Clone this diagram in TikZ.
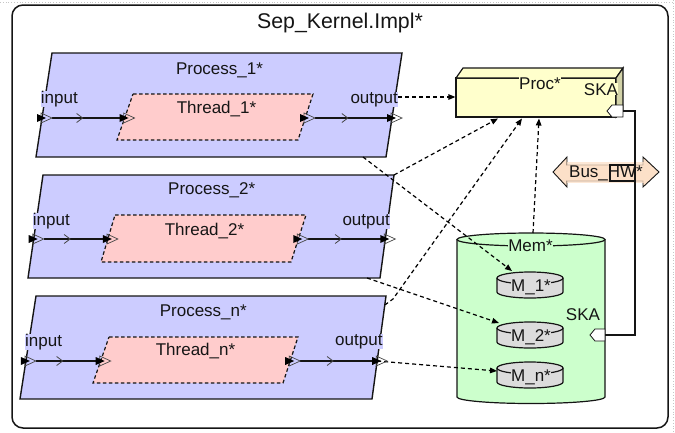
\documentclass[tikz,border=0pt]{standalone}
\usepackage{fontspec}
\setmainfont{Liberation Sans}
\usetikzlibrary{arrows.meta,decorations.markings}

\definecolor{prcfill}{HTML}{CCCCFF}
\definecolor{thdfill}{HTML}{FFCCCC}
\definecolor{cpufront}{HTML}{FFFFCC}
\definecolor{cpuside}{HTML}{D2D2A8}
\definecolor{memfill}{HTML}{CCFFCC}
\definecolor{blkfill}{HTML}{DCDCDC}
\definecolor{busfill}{HTML}{FCE0C8}
\definecolor{ink}{HTML}{151515}

\tikzset{
  txt/.style={font=\fontsize{17}{20}\selectfont, text=ink, inner sep=0pt, anchor=base},
  ttl/.style={font=\fontsize{21.3}{24}\selectfont, text=ink, inner sep=0pt, anchor=base},
  prcshape/.style={fill=prcfill, draw=ink, line width=1.4pt},
  thdshape/.style={fill=thdfill, draw=ink, line width=1.2pt, dash pattern=on 3.5pt off 2.5pt},
  cyl/.style={draw=ink, line width=1.2pt},
  flowline/.style={draw=ink, line width=1.4pt, shorten <=10pt, shorten >=4pt,
    postaction={decorate},
    decoration={markings, mark=at position 0.5 with
      {\arrow[draw=gray!55!black, line width=0.8pt]{Straight Barb[length=6pt,width=9pt]}}}},
  bind/.style={draw=black, line width=1.2pt, dash pattern=on 4pt off 3pt,
    -{Triangle[length=7pt,width=5.5pt]}},
  busline/.style={draw=ink, line width=1.2pt},
  skaport/.style={fill=white, draw=ink, line width=0.8pt},
  port/.pic={
    \draw[gray!55!black, line width=0.7pt] (-1pt,-5pt) -- (10pt,0pt) -- (-1pt,5pt) -- cycle;
    \fill[black] (-5pt,-4pt) -- (4pt,0pt) -- (-5pt,4pt) -- cycle;
  },
}

\begin{document}
\begin{tikzpicture}[x=1pt,y=-1pt]
\useasboundingbox (0,0) rectangle (675,432);

% editor canvas edge
\draw[gray!45, dotted, line width=0.8pt] (0,2) -- (675,2);
\draw[gray!45, dotted, line width=0.8pt] (673,0) -- (673,432);

% enclosing implementation
\node[draw=ink, line width=1.5pt, rounded corners=11pt, minimum width=656pt,
      minimum height=423pt, inner sep=0pt] (impl) at (340,216.5) {};
\node[ttl] (title) at (340,28.5) {Sep\_Kernel.Impl*};

% ---------------- Process_1 ----------------
\draw[prcshape] (52,53) -- (402,53) -- (386,157) -- (36,157) -- cycle;
\draw[thdshape] (133,94) -- (313,94) -- (298,140) -- (117,140) -- cycle;
\coordinate (p1in) at (42,118);
\coordinate (t1in) at (124.6,118);
\coordinate (t1out) at (305,118);
\coordinate (p1out) at (392,118);
\draw[flowline] (p1in) -- (t1in);
\draw[flowline] (t1out) -- (p1out);
\pic at (p1in) {port};
\pic at (t1in) {port};
\pic at (t1out) {port};
\pic at (p1out) {port};
\node[txt] (p1name) at (219.5,74) {Process\_1*};
\node[txt] (t1name) at (216.5,113.3) {Thread\_1*};
\node[txt, anchor=base west, fill=prcfill] (i1) at (40.7,103) {input};
\node[txt, anchor=base east, fill=prcfill] (o1) at (398,103) {output};

% ---------------- Process_2 ----------------
\draw[prcshape] (43,175) -- (394,175) -- (380,278) -- (28,278) -- cycle;
\draw[thdshape] (115,215) -- (306,215) -- (291,262) -- (101,262) -- cycle;
\coordinate (p2in) at (33.7,239);
\coordinate (t2in) at (107.9,239);
\coordinate (t2out) at (298.3,239);
\coordinate (p2out) at (385.3,239);
\draw[flowline] (p2in) -- (t2in);
\draw[flowline] (t2out) -- (p2out);
\pic at (p2in) {port};
\pic at (t2in) {port};
\pic at (t2out) {port};
\pic at (p2out) {port};
\node[txt] (p2name) at (211.7,194.3) {Process\_2*};
\node[txt] (t2name) at (204.5,235) {Thread\_2*};
\node[txt, anchor=base west, fill=prcfill] (i2) at (32.7,225) {input};
\node[txt, anchor=base east, fill=prcfill] (o2) at (390,225) {output};

% ---------------- Process_n ----------------
\draw[prcshape] (36,296) -- (386,296) -- (372,399) -- (20,399) -- cycle;
\draw[thdshape] (109,337) -- (298,337) -- (283,383) -- (93,383) -- cycle;
\coordinate (pnin) at (25.9,361);
\coordinate (tnin) at (100.7,361);
\coordinate (tnout) at (290.2,361);
\coordinate (pnout) at (377.2,361);
\draw[flowline] (pnin) -- (tnin);
\draw[flowline] (tnout) -- (pnout);
\node[txt] (pnname) at (203.3,316) {Process\_n*};
\node[txt] (tnname) at (195.5,355.7) {Thread\_n*};
\node[txt, anchor=base west, fill=prcfill] (in) at (25,346) {input};
\node[txt, anchor=base east, fill=prcfill] (on) at (382.7,345) {output};

% ---------------- Proc* (processor) ----------------
\node[fill=cpufront, draw=ink, line width=1.2pt, minimum width=160pt,
      minimum height=39pt, inner sep=0pt] (cpu) at (536,97.5) {};
\draw[fill=cpufront, draw=ink, line width=1.2pt]
  (456,78) -- (463,68) -- (623,68) -- (616,78) -- cycle;
\draw[fill=cpuside, draw=ink, line width=1.2pt]
  (616,78) -- (623,68) -- (623,110) -- (616,117) -- cycle;
\node[txt, fill=cpufront] (cpuname) at (540,89) {Proc*};
\node[txt, fill=cpufront] (cpuskalbl) at (601,95) {SKA};
\draw[skaport] (607,111) -- (612,105) -- (623,105) -- (623,117) -- (612,117) -- cycle;
\coordinate (cpuska) at (623,111);

% ---------------- Mem* (memory) ----------------
\path[fill=memfill] (457,239.5) -- (457,397)
  arc[start angle=180, end angle=360, x radius=74pt, y radius=6.5pt]
  -- (605,239.5)
  arc[start angle=0, end angle=180, x radius=74pt, y radius=6.5pt] -- cycle;
\draw[cyl] (457,239.5) -- (457,397)
  arc[start angle=180, end angle=360, x radius=74pt, y radius=6.5pt] -- (605,239.5);
\draw[cyl] (531,239.5) ellipse[x radius=74pt, y radius=6.5pt];
\node[txt, fill=memfill] (memname) at (530.5,251) {Mem*};
\node[txt] (memskalbl) at (583,320) {SKA};
\draw[skaport] (590,335) -- (595,329) -- (605,329) -- (605,341) -- (595,341) -- cycle;
\coordinate (memska) at (605,335);
\coordinate (memtop) at (533,233);

% memory blocks M_1*, M_2*, M_n*
\foreach \nm/\tp/\lab in {m1/272/M\_1*, m2/322/M\_2*, mn/362/M\_n*}{
  \pgfmathsetmacro{\ta}{\tp+6}
  \pgfmathsetmacro{\tb}{\tp+20}
  \pgfmathsetmacro{\tc}{\tp+19}
  \path[fill=blkfill] (497,\ta) -- (497,\tb)
    arc[start angle=180, end angle=360, x radius=33pt, y radius=6pt]
    -- (563,\ta)
    arc[start angle=0, end angle=180, x radius=33pt, y radius=6pt] -- cycle;
  \draw[cyl] (497,\ta) -- (497,\tb)
    arc[start angle=180, end angle=360, x radius=33pt, y radius=6pt] -- (563,\ta);
  \draw[cyl] (530,\ta) ellipse[x radius=33pt, y radius=6pt];
  \node[txt, fill=blkfill] (\nm) at (531,\tc) {\lab};
}

% ---------------- Bus_HW* ----------------
\draw[fill=busfill, draw=ink, line width=0.9pt]
  (553,172) -- (567,157) -- (567,165) -- (643,165) -- (643,157) -- (659,172)
  -- (643,187) -- (643,181) -- (567,181) -- (567,187) -- cycle;
\node[txt, fill=busfill, fill opacity=0.75, text opacity=1, inner xsep=2pt,
      inner ysep=3pt] (bus) at (606,177) {Bus\_HW*};
\coordinate (busjoin) at (635,165);
\draw[busline] (cpuska) -- (635,111) -- (busjoin) -- (610,165) -- (610,181) -- (635,181);
\draw[busline] (busjoin) -- (635,335) -- (memska);

% ---------------- bindings ----------------
\coordinate (p1o) at (398,97);
\coordinate (p1b) at (363,157);
\coordinate (p2ne) at (394,175);
\coordinate (p2b) at (367,278);
\coordinate (pnr) at (384.8,305);
\coordinate (pnbend) at (393,299);
\coordinate (cpub1) at (498,118.5);
\coordinate (cpub2) at (522,118.5);
\coordinate (cpub3) at (539,118.5);
\coordinate (m1t) at (512,271);
\coordinate (m2l) at (499,323);
\coordinate (mnl) at (497,371);

\draw[bind] (p1o) -- (p1o -| cpu.west);
\draw[bind] (p2ne) -- (cpub1);
\draw[bind] (pnr) -- (pnbend) -- (cpub2);
\draw[bind] (memtop) -- (cpub3);
\draw[bind] (p1b) -- (m1t);
\draw[bind] (p2b) -- (m2l);
\draw[bind] (pnout) -- (mnl);

% Process_n ports drawn above the binding that leaves its output
\pic at (pnin) {port};
\pic at (tnin) {port};
\pic at (tnout) {port};
\pic at (pnout) {port};
\end{tikzpicture}
\end{document}
